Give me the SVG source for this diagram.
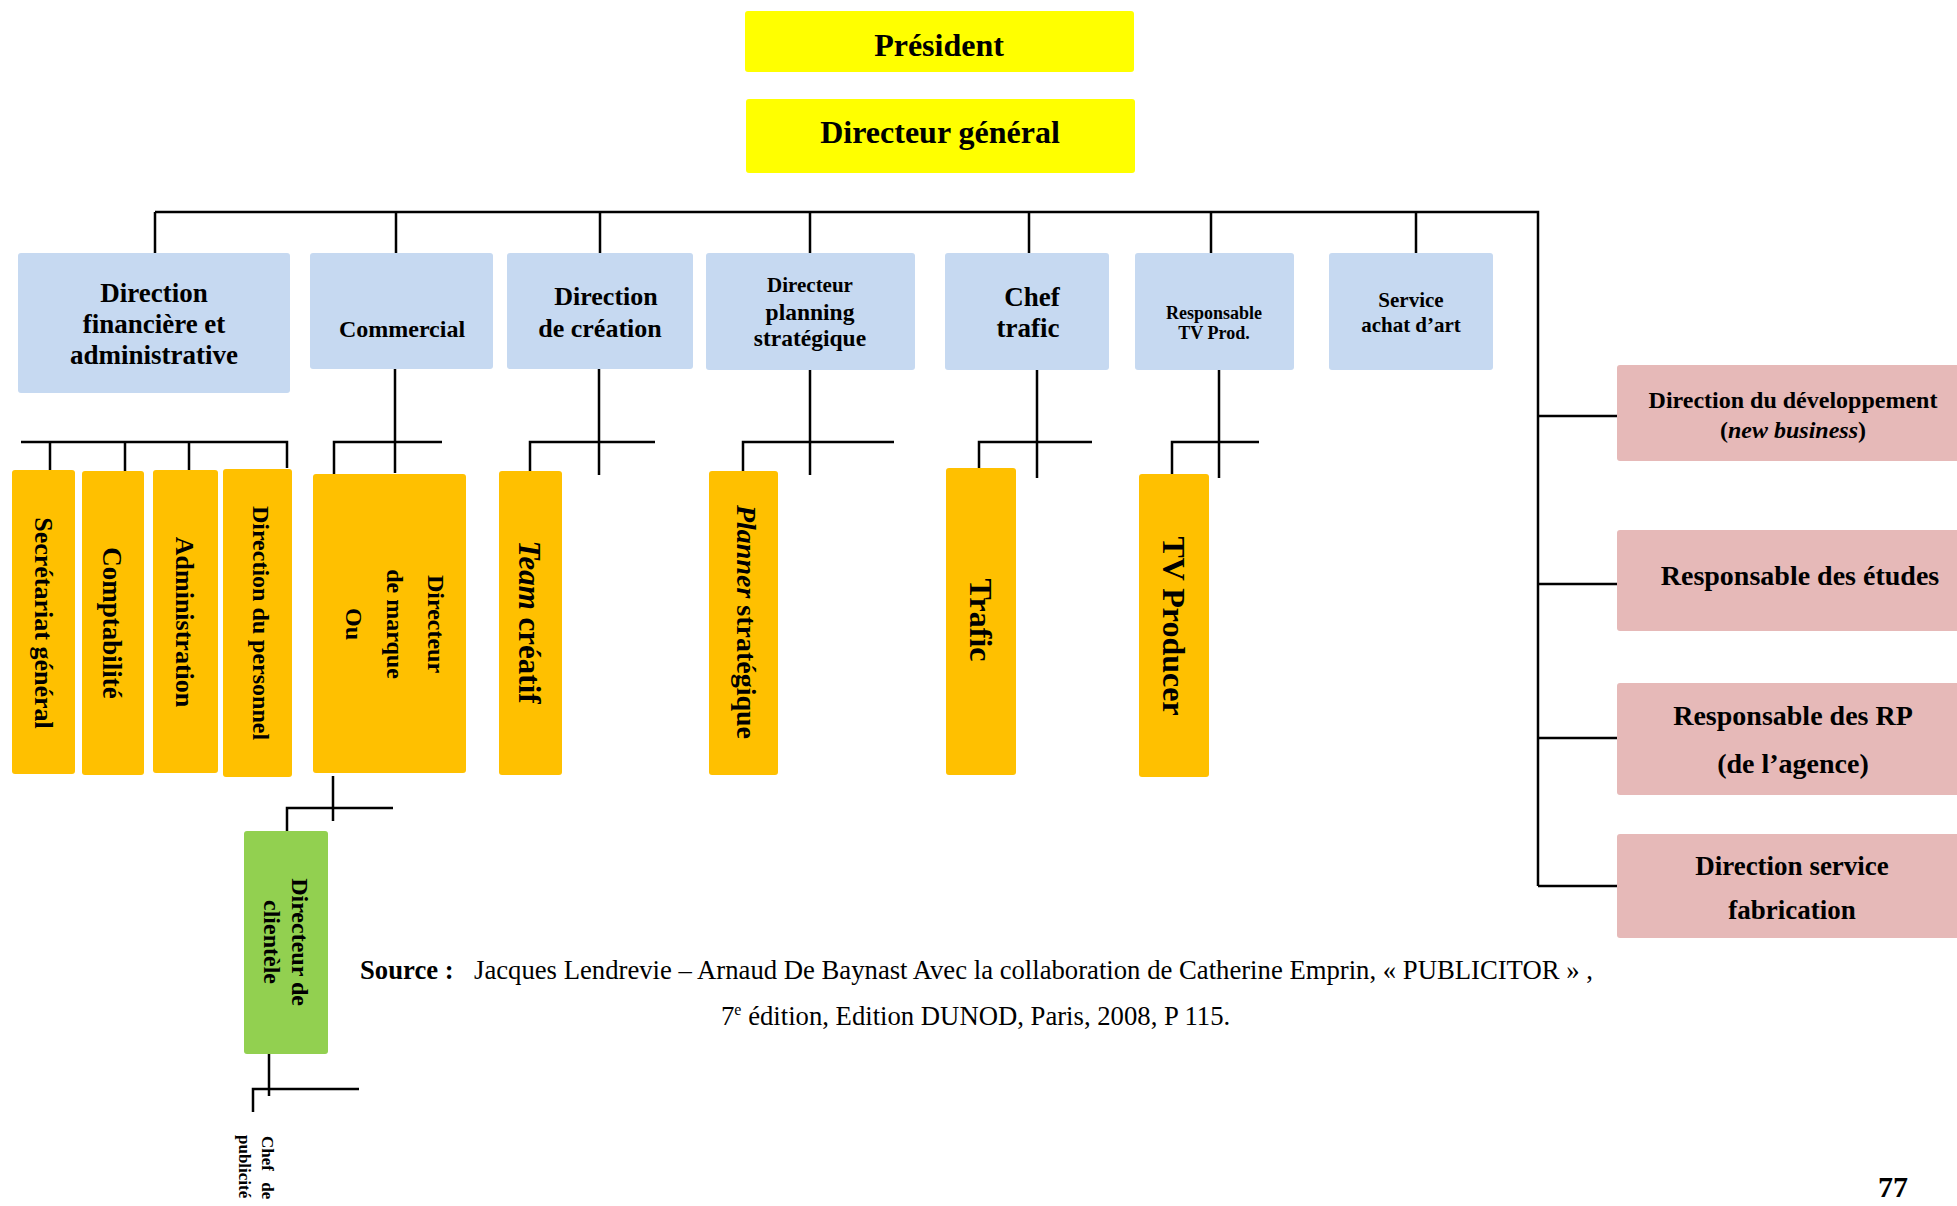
<svg xmlns="http://www.w3.org/2000/svg" width="1957" height="1206" viewBox="0 0 1957 1206">
  <style>
    text { font-family: "Liberation Serif", "Times New Roman", serif; fill: #000; }
    .b { font-weight: bold; }
    .c { text-anchor: middle; }
    .yel { fill: #FFFF00; }
    .blu { fill: #C6D9F1; }
    .org { fill: #FFC000; }
    .grn { fill: #92D050; }
    .pnk { fill: #E6B9B8; }
    .ln { stroke: #000; stroke-width: 2.5; fill: none; }
  </style>
  <rect width="1957" height="1206" fill="#fff"/>

  <!-- connectors -->
  <g id="connectors" class="ln">
    <!-- main bus under the general manager -->
    <path d="M155,212 H1538 V886"/>
    <path d="M155,212 V253 M396,212 V253 M600,212 V253 M810,212 V253 M1029,212 V253 M1211,212 V253 M1416,212 V253"/>
    <!-- right-hand services -->
    <path d="M1538,416 H1617 M1538,584 H1617 M1538,738 H1617 M1538,886 H1617"/>
    <!-- financial / administrative bracket -->
    <path d="M21,442 H287 V468 M50,442 V470 M125,442 V471 M189,442 V470"/>
    <!-- commercial -->
    <path d="M395,369 V473 M334,474 V442 H442"/>
    <!-- creation -->
    <path d="M599,369 V475 M530,471 V442 H655"/>
    <!-- strategic planning -->
    <path d="M810,370 V475 M743,471 V442 H894"/>
    <!-- traffic -->
    <path d="M1037,370 V478 M979,468 V442 H1092"/>
    <!-- TV production -->
    <path d="M1219,370 V478 M1172,474 V442 H1259"/>
    <!-- brand director to account director -->
    <path d="M333,776 V821 M287,831 V808 H393"/>
    <!-- account director to advertising manager -->
    <path d="M269,1054 V1096 M253,1112 V1089 H359"/>
  </g>

  <!-- top management -->
  <g id="president">
    <rect class="yel" x="745" y="11" width="389" height="61" rx="3"/>
    <text class="b c" x="939" y="56" font-size="32">Président</text>
  </g>
  <g id="directeur-general">
    <rect class="yel" x="746" y="99" width="389" height="74" rx="3"/>
    <text class="b c" x="940" y="143" font-size="32">Directeur général</text>
  </g>

  <!-- departments -->
  <g id="direction-financiere">
    <rect class="blu" x="18" y="253" width="272" height="140" rx="3"/>
    <text class="b c" x="154" font-size="27"><tspan x="154" y="302">Direction</tspan><tspan x="154" y="333">financière et</tspan><tspan x="154" y="364">administrative</tspan></text>
  </g>
  <g id="commercial">
    <rect class="blu" x="310" y="253" width="183" height="116" rx="3"/>
    <text class="b c" x="402" y="337" font-size="24">Commercial</text>
  </g>
  <g id="direction-creation">
    <rect class="blu" x="507" y="253" width="186" height="116" rx="3"/>
    <text class="b c" font-size="26"><tspan x="606" y="305">Direction</tspan><tspan x="600" y="337">de création</tspan></text>
  </g>
  <g id="directeur-planning">
    <rect class="blu" x="706" y="253" width="209" height="117" rx="3"/>
    <text class="b c" x="810" y="292" font-size="21">Directeur</text>
    <text class="b c" font-size="23.5"><tspan x="810" y="320">planning</tspan><tspan x="810" y="346">stratégique</tspan></text>
  </g>
  <g id="chef-trafic">
    <rect class="blu" x="945" y="253" width="164" height="117" rx="3"/>
    <text class="b c" font-size="27"><tspan x="1032" y="306">Chef</tspan><tspan x="1028" y="337">trafic</tspan></text>
  </g>
  <g id="responsable-tv">
    <rect class="blu" x="1135" y="253" width="159" height="117" rx="3"/>
    <text class="b c" font-size="18"><tspan x="1214" y="319">Responsable</tspan><tspan x="1214" y="339">TV Prod.</tspan></text>
  </g>
  <g id="service-achat-art">
    <rect class="blu" x="1329" y="253" width="164" height="117" rx="3"/>
    <text class="b c" font-size="21"><tspan x="1411" y="307">Service</tspan><tspan x="1411" y="332">achat d’art</tspan></text>
  </g>

  <!-- staff functions on the right -->
  <g id="direction-developpement">
    <rect class="pnk" x="1617" y="365" width="353" height="96" rx="3"/>
    <text class="b c" x="1793" y="408" font-size="24">Direction du développement</text>
    <text class="b c" x="1793" y="438" font-size="24">(<tspan font-style="italic">new business</tspan>)</text>
  </g>
  <g id="responsable-etudes">
    <rect class="pnk" x="1617" y="530" width="353" height="101" rx="3"/>
    <text class="b c" x="1800" y="585" font-size="28">Responsable des études</text>
  </g>
  <g id="responsable-rp">
    <rect class="pnk" x="1617" y="683" width="353" height="112" rx="3"/>
    <text class="b c" font-size="28"><tspan x="1793" y="725">Responsable des RP</tspan><tspan x="1793" y="773">(de l’agence)</tspan></text>
  </g>
  <g id="direction-fabrication">
    <rect class="pnk" x="1617" y="834" width="353" height="104" rx="3"/>
    <text class="b c" font-size="27"><tspan x="1792" y="875">Direction service</tspan><tspan x="1792" y="919">fabrication</tspan></text>
  </g>

  <!-- second level (vertical labels) -->
  <g id="secretariat-general">
    <rect class="org" x="12" y="470" width="63" height="304" rx="3"/>
    <text class="b c" transform="translate(44,623) rotate(90)" y="9" font-size="26">Secrétariat général</text>
  </g>
  <g id="comptabilite">
    <rect class="org" x="82" y="471" width="62" height="304" rx="3"/>
    <text class="b c" transform="translate(112,623) rotate(90)" y="9" font-size="27">Comptabilité</text>
  </g>
  <g id="administration">
    <rect class="org" x="153" y="470" width="65" height="303" rx="3"/>
    <text class="b c" transform="translate(185,622) rotate(90)" y="9" font-size="26">Administration</text>
  </g>
  <g id="direction-personnel">
    <rect class="org" x="223" y="469" width="69" height="308" rx="3"/>
    <text class="b c" transform="translate(261,623) rotate(90)" y="8" font-size="24">Direction du personnel</text>
  </g>
  <g id="directeur-marque">
    <rect class="org" x="313" y="474" width="153" height="299" rx="3"/>
    <text class="b c" transform="translate(436,624) rotate(90)" y="8" font-size="24">Directeur</text>
    <text class="b c" transform="translate(395,624) rotate(90)" y="8" font-size="24">de marque</text>
    <text class="b c" transform="translate(354,624) rotate(90)" y="8" font-size="24">Ou</text>
  </g>
  <g id="team-creatif">
    <rect class="org" x="499" y="471" width="63" height="304" rx="3"/>
    <text class="b c" transform="translate(529,622) rotate(90)" y="10" font-size="31"><tspan font-style="italic">Team</tspan> créatif</text>
  </g>
  <g id="planner-strategique">
    <rect class="org" x="709" y="471" width="69" height="304" rx="3"/>
    <text class="b c" transform="translate(746,622) rotate(90)" y="9" font-size="28"><tspan font-style="italic">Planner</tspan> stratégique</text>
  </g>
  <g id="trafic">
    <rect class="org" x="946" y="468" width="70" height="307" rx="3"/>
    <text class="b c" transform="translate(981,620) rotate(90)" y="11" font-size="32">Trafic</text>
  </g>
  <g id="tv-producer">
    <rect class="org" x="1139" y="474" width="70" height="303" rx="3"/>
    <text class="b c" transform="translate(1174,626) rotate(90)" y="11" font-size="32">TV Producer</text>
  </g>

  <!-- account management -->
  <g id="directeur-clientele">
    <rect class="grn" x="244" y="831" width="84" height="223" rx="3"/>
    <text class="b c" transform="translate(300,942) rotate(90)" y="8" font-size="24">Directeur de</text>
    <text class="b c" transform="translate(272,942) rotate(90)" y="8" font-size="24">clientèle</text>
  </g>
  <g id="chef-publicite">
    <text class="b" transform="translate(268,1136) rotate(90)" y="6" font-size="17" word-spacing="7">Chef de</text>
    <text class="b" transform="translate(245,1135) rotate(90)" y="6" font-size="17">publicité</text>
  </g>

  <!-- reference -->
  <g id="source">
    <text x="360" y="979" font-size="26.7"><tspan class="b">Source :</tspan></text>
    <text x="474" y="979" font-size="26.7">Jacques Lendrevie – Arnaud De Baynast Avec la collaboration de Catherine Emprin, « PUBLICITOR » ,</text>
    <text x="721" y="1025" font-size="26.7">7<tspan font-size="16" dy="-10">e</tspan><tspan dy="10"> édition, Edition DUNOD, Paris, 2008, P 115.</tspan></text>
  </g>
  <text class="b c" x="1893" y="1197" font-size="30">77</text>
</svg>
